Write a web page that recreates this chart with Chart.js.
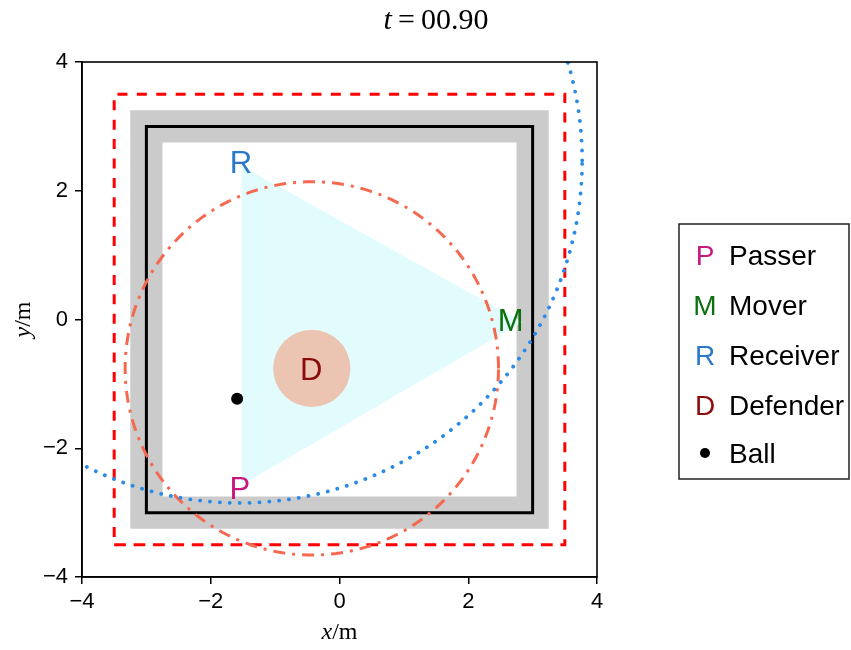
<!DOCTYPE html>
<html>
<head>
<meta charset="utf-8">
<script src="https://cdn.jsdelivr.net/npm/chart.js@4.4.1/dist/chart.umd.min.js"></script>
<style>
  html,body{margin:0;padding:0;background:#fff;}
  #wrap{width:851px;height:650px;}
</style>
</head>
<body>
<div id="wrap"><canvas id="c" width="851" height="650"></canvas></div>
<script>
// ── data (metres) ───────────────────────────────────────────────
const tickValues   = [-4, -2, 0, 2, 4];
const fieldX       = [-3, 3, 3, -3, -3];
const fieldY       = [-3, -3, 3, 3, -3];
const boundX       = [-3.5, 3.5, 3.5, -3.5, -3.5];
const boundY       = [-3.5, -3.5, 3.5, 3.5, -3.5];
const laneX        = [-1.52, 2.84, -1.52, -1.52];
const laneY        = [2.39, -0.04, -2.57, 2.39];
const playerKeys   = ['P', 'M', 'R', 'D'];
const playerX      = [-1.55, 2.66, -1.53, -0.44];
const playerY      = [-2.62, 0.00, 2.45, -0.77];
const playerColors = ['#c8177f', '#0c700c', '#2a78c8', '#8b0a0a'];
const legendLabels = ['Passer', 'Mover', 'Receiver', 'Defender', 'Ball'];
const ballX        = [-1.59];
const ballY        = [-1.23];
const defCenter    = [-0.43, -0.76];
const defZoneR     = 0.6;
const defReachR    = 2.9;
const recCenter    = [-1.55, 2.47];
const recReachR    = 5.32;
const timeLabel    = '00.90';

const pts = (xs, ys) => xs.map((x, i) => ({x, y: ys[i]}));
// closed square path, run one edge further so the start corner gets a mitred join
const loopPts = (xs, ys) => { const p = pts(xs, ys); return p.concat([p[1]]); };
// outline of a circle given its centre and radius
function ring(c, r){
  const out = [];
  for(let i=0;i<=240;i++){ const a=i/240*2*Math.PI; out.push({x:c[0]+r*Math.cos(a), y:c[1]+r*Math.sin(a)}); }
  return out;
}
const minus = v => (v<0 ? '\u2212'+Math.abs(v) : String(v));
const SANS = '"Liberation Sans", Arial, sans-serif';
const SERIF = '"Liberation Serif", serif';

// ── overlay: frame, player letters, title, axis labels, legend ──
const overlay = {
  id:'overlay',
  afterDatasetsDraw(chart){
    const {ctx, chartArea:a, scales:{x, y}} = chart;
    ctx.save();
    ctx.strokeStyle='#000'; ctx.lineWidth=1.6;
    ctx.strokeRect(a.left, a.top, a.right-a.left, a.bottom-a.top);
    ctx.textAlign='center'; ctx.textBaseline='alphabetic';
    ctx.font='31px '+SANS;
    playerKeys.forEach((k,i)=>{
      ctx.fillStyle=playerColors[i];
      ctx.fillText(k, x.getPixelForValue(playerX[i]), y.getPixelForValue(playerY[i])+31*0.36);
    });
    ctx.restore();
  },
  afterDraw(chart){
    const {ctx, chartArea:a} = chart;
    ctx.save();
    ctx.fillStyle='#000'; ctx.textBaseline='alphabetic'; ctx.textAlign='left';
    // title  t = 00.90
    const it='italic 30px '+SERIF, rm='30px '+SERIF;
    ctx.font=it; const wT=ctx.measureText('t').width;
    ctx.font=rm; const wEq=ctx.measureText('=').width, wN=ctx.measureText(timeLabel).width;
    const gap=6, tot=wT+gap+wEq+gap+wN;
    let tx=436-tot/2;
    ctx.font=it; ctx.fillText('t', tx, 29); tx+=wT+gap;
    ctx.font=rm; ctx.fillText('=', tx, 29); tx+=wEq+gap; ctx.fillText(timeLabel, tx, 29);
    // axis labels
    const axLab=(cx, cy, letter)=>{
      ctx.font='italic 24px '+SERIF; const w1=ctx.measureText(letter).width;
      ctx.font='24px '+SERIF; const w2=ctx.measureText('/m').width;
      let px=cx-(w1+w2)/2;
      ctx.font='italic 24px '+SERIF; ctx.fillText(letter, px, cy);
      ctx.font='24px '+SERIF; ctx.fillText('/m', px+w1, cy);
    };
    axLab((a.left+a.right)/2, 639, 'x');
    ctx.save(); ctx.translate(30, (a.top+a.bottom)/2); ctx.rotate(-Math.PI/2);
    axLab(0, 0, 'y'); ctx.restore();
    // legend box
    ctx.strokeStyle='#222'; ctx.lineWidth=1.5;
    ctx.strokeRect(679, 224, 170, 255);
    const rows=[255, 305, 355, 405, 453];
    legendLabels.forEach((lab,i)=>{
      const ry=rows[i];
      if(i<playerKeys.length){
        ctx.font='28px '+SANS; ctx.textAlign='center';
        ctx.fillStyle=playerColors[i]; ctx.fillText(playerKeys[i], 705, ry+28*0.36);
      } else {
        ctx.fillStyle='#000'; ctx.beginPath(); ctx.arc(705, ry, 5, 0, 2*Math.PI); ctx.fill();
      }
      ctx.textAlign='left'; ctx.fillStyle='#000';
      ctx.font='28px '+SANS;
      ctx.fillText(lab, 729, ry+28*0.36);
    });
    ctx.restore();
  }
};

const axisOpts = (isX) => ({
  type:'linear', min:-4, max:4,
  afterBuildTicks: s => { s.ticks = tickValues.map(v=>({value:v})); },
  afterFit: s => { if(isX) s.height=73; else s.width=82; },
  grid:{drawOnChartArea:false, drawTicks:true, tickLength:7, color:'#000', lineWidth:1.5},
  border:{display:true, color:'#000', width:1.6},
  ticks:{color:'#000', padding:isX?5:7, font:{family:SANS, size:22},
         callback:v=>minus(v), autoSkip:false, maxRotation:0}
});

// datasets listed top-most first (Chart.js draws index 0 last)
new Chart(document.getElementById('c'), {
  type:'line',
  data:{datasets:[
    {label:'ball', data:pts(ballX, ballY), showLine:false, pointRadius:6,
     pointBackgroundColor:'#000', pointBorderWidth:0},
    {label:'receiver reach', data:ring(recCenter, recReachR), borderColor:'#2b8ae6',
     borderWidth:3.8, borderDash:[0.1, 9.8], borderCapStyle:'round', pointRadius:0, clip:0, tension:0},
    {label:'defender reach', data:ring(defCenter, defReachR), borderColor:'#f4694f',
     borderWidth:3, borderDash:[12, 7, 3, 7], pointRadius:0, clip:0, tension:0},
    {label:'defender', data:pts([defCenter[0]], [defCenter[1]]), showLine:false,
     pointBackgroundColor:'#ebc4b2', pointBorderWidth:0,
     pointRadius:c=>{ const s=c.chart.scales.x; return s ? Math.abs(s.getPixelForValue(defZoneR)-s.getPixelForValue(0)) : 38; }},
    {label:'lane', data:pts(laneX, laneY), borderWidth:0, borderColor:'rgba(0,0,0,0)',
     backgroundColor:'#e2fcfe', fill:'shape', pointRadius:0},
    {label:'boundary', data:loopPts(boundX, boundY), borderColor:'#f00', borderWidth:3,
     borderDash:[10, 9.4], borderJoinStyle:'miter', pointRadius:0},
    {label:'field', data:loopPts(fieldX, fieldY), borderColor:'#000', borderWidth:3,
     borderJoinStyle:'miter', pointRadius:0},
    {label:'band', data:loopPts(fieldX, fieldY), borderColor:'#cbcbcb', borderWidth:32.2,
     borderJoinStyle:'miter', pointRadius:0}
  ]},
  options:{
    responsive:false, animation:false, events:[],
    layout:{padding:{top:62, right:254, left:0, bottom:0}},
    plugins:{legend:{display:false}, title:{display:false}, tooltip:{enabled:false}},
    scales:{x:axisOpts(true), y:axisOpts(false)}
  },
  plugins:[overlay]
});
</script>
</body>
</html>
